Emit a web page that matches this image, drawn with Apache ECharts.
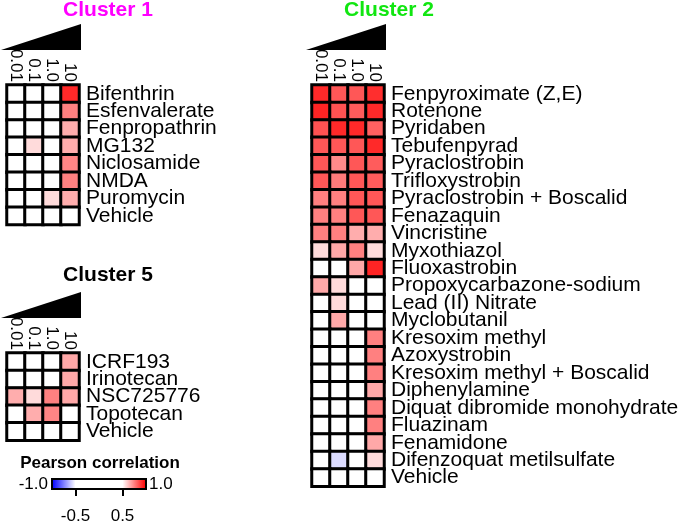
<!DOCTYPE html>
<html>
<head>
<meta charset="utf-8">
<script src="https://cdn.jsdelivr.net/npm/echarts@6/dist/echarts.min.js"></script>
<style>
html, body { margin: 0; padding: 0; background: #fff; }
#main { width: 685px; height: 521px; }
</style>
</head>
<body>
<div id="main"></div>
<script>
// doses (columns), same for every cluster
var doses = ['0.01', '0.1', '1.0', '10'];

var cluster1Names = ['Bifenthrin', 'Esfenvalerate', 'Fenpropathrin', 'MG132', 'Niclosamide', 'NMDA', 'Puromycin', 'Vehicle'];
var cluster1Values = [
    [0, 0, 0, 0.92],
    [0, 0, 0, 0.75],
    [0, 0, 0, 0.66],
    [0, 0.57, 0, 0.66],
    [0, 0, 0, 0.74],
    [0, 0, 0, 0.75],
    [0, 0, 0.57, 0.66],
    [0, 0, 0, 0]
];

var cluster5Names = ['ICRF193', 'Irinotecan', 'NSC725776', 'Topotecan', 'Vehicle'];
var cluster5Values = [
    [0, 0, 0, 0.67],
    [0, 0, 0, 0.67],
    [0.66, 0.57, 0.75, 0.67],
    [0, 0.66, 0.74, 0],
    [0, 0, 0, 0]
];

var cluster2Names = ['Fenpyroximate (Z,E)', 'Rotenone', 'Pyridaben', 'Tebufenpyrad', 'Pyraclostrobin',
    'Trifloxystrobin', 'Pyraclostrobin + Boscalid', 'Fenazaquin', 'Vincristine', 'Myxothiazol',
    'Fluoxastrobin', 'Propoxycarbazone-sodium', 'Lead (II) Nitrate', 'Myclobutanil', 'Kresoxim methyl',
    'Azoxystrobin', 'Kresoxim methyl + Boscalid', 'Diphenylamine', 'Diquat dibromide monohydrate',
    'Fluazinam', 'Fenamidone', 'Difenzoquat metilsulfate', 'Vehicle'];
var cluster2Values = [
    [0.92, 0.83, 0.83, 0.91],
    [0.93, 0.84, 0.82, 0.92],
    [0.84, 0.92, 0.92, 0.81],
    [0.83, 0.83, 0.83, 0.92],
    [0.83, 0.73, 0.83, 0.82],
    [0.83, 0.76, 0.83, 0.82],
    [0.75, 0.75, 0.83, 0.83],
    [0.75, 0.75, 0.83, 0.83],
    [0.75, 0.75, 0.66, 0.66],
    [0.57, 0.67, 0.75, 0.57],
    [0, 0, 0.67, 0.93],
    [0.67, 0.57, 0, 0],
    [0, 0.57, 0, 0],
    [0, 0.67, 0, 0],
    [0, 0, 0, 0.75],
    [0, 0, 0, 0.75],
    [0, 0, 0, 0.75],
    [0, 0, 0, 0.67],
    [0, 0, 0, 0.75],
    [0, 0, 0, 0.75],
    [0, 0, 0, 0.67],
    [0, -0.57, 0, 0.57],
    [0, 0, 0, 0]
];

// colour bar ticks
var legendTicks = [-0.5, 0.5];

var cellH = 17.45;
var gridW = 72;

var blocks = [
    { left: 7,   top: 85,  names: cluster1Names, values: cluster1Values },
    { left: 7,   top: 353, names: cluster5Names, values: cluster5Values },
    { left: 312, top: 85,  names: cluster2Names, values: cluster2Values }
];

function toCells(values) {
    var out = [];
    values.forEach(function (row, i) {
        row.forEach(function (v, j) {
            out.push([j, i, v]);
        });
    });
    return out;
}

var chart = echarts.init(document.getElementById('main'));

var grids = [], xAxes = [], yAxes = [], series = [], shapes = [];

blocks.forEach(function (b, i) {
    var h = b.names.length * cellH;
    grids.push({ left: b.left, top: b.top, width: gridW, height: h, outerBoundsMode: 'none' });
    xAxes.push({
        type: 'category', gridIndex: i, data: doses, position: 'top',
        axisLine: { show: false }, axisTick: { show: false }, splitLine: { show: false },
        axisLabel: { rotate: 90, interval: 0, fontSize: 17, color: '#000', margin: 3 }
    });
    yAxes.push({
        type: 'category', gridIndex: i, data: b.names, position: 'right', inverse: true,
        axisLine: { show: false }, axisTick: { show: false }, splitLine: { show: false },
        axisLabel: { interval: 0, fontSize: 21, color: '#000', margin: 7 }
    });
    series.push({
        type: 'heatmap', xAxisIndex: i, yAxisIndex: i,
        data: toCells(b.values),
        itemStyle: { borderColor: '#000', borderWidth: 3 },
        emphasis: { disabled: true }
    });
    // dose wedge above each block
    shapes.push({
        type: 'polygon',
        shape: { points: [[b.left - 6, b.top - 35], [b.left + gridW + 2, b.top - 61], [b.left + gridW + 2, b.top - 35]] },
        style: { fill: '#000' }
    });
});

// grid holding the colour bar frame and its ticks
grids.push({
    left: 52, top: 479, width: 94, height: 10, outerBoundsMode: 'none',
    show: true, backgroundColor: 'transparent', borderColor: '#000', borderWidth: 2, z: 10
});
xAxes.push({
    type: 'value', gridIndex: 3, min: -1, max: 1, position: 'bottom',
    axisLine: { show: false }, splitLine: { show: false },
    axisTick: { show: true, customValues: legendTicks, length: 7, lineStyle: { color: '#000', width: 2 } },
    axisLabel: { customValues: legendTicks, fontSize: 17, color: '#000', margin: 19,
        formatter: function (v) { return v.toFixed(1); } }
});
yAxes.push({ type: 'value', gridIndex: 3, show: false });

var option = {
    animation: false,
    textStyle: { fontFamily: 'Liberation Sans, Arial, sans-serif' },
    title: [
        { text: 'Cluster 1', left: 108, top: 0, textAlign: 'center', padding: 0,
          textStyle: { color: '#ff00ff', fontSize: 21, fontWeight: 'bold' } },
        { text: 'Cluster 2', left: 389, top: 0, textAlign: 'center', padding: 0,
          textStyle: { color: '#11e611', fontSize: 21, fontWeight: 'bold' } },
        { text: 'Cluster 5', left: 108, top: 265, textAlign: 'center', padding: 0,
          textStyle: { color: '#000', fontSize: 21, fontWeight: 'bold' } },
        { text: 'Pearson correlation', left: 100, top: 455, textAlign: 'center', padding: 0,
          textStyle: { color: '#000', fontSize: 17, fontWeight: 'bold' } },
        { text: '-1.0', left: 48, top: 476, textAlign: 'right', padding: 0,
          textStyle: { color: '#000', fontSize: 17, fontWeight: 'normal' } },
        { text: '1.0', left: 149, top: 476, textAlign: 'left', padding: 0,
          textStyle: { color: '#000', fontSize: 17, fontWeight: 'normal' } }
    ],
    grid: grids,
    xAxis: xAxes,
    yAxis: yAxes,
    visualMap: {
        type: 'continuous', min: -1, max: 1, seriesIndex: [0, 1, 2],
        orient: 'horizontal', left: 52, top: 479, padding: 0,
        itemWidth: 10, itemHeight: 94, calculable: false, hoverLink: false,
        inRange: { color: ['#0000ff', '#ffffff', '#ffffff', '#ffffff', '#ff0000'] }
    },
    graphic: shapes,
    series: series
};

chart.setOption(option);
</script>
</body>
</html>
